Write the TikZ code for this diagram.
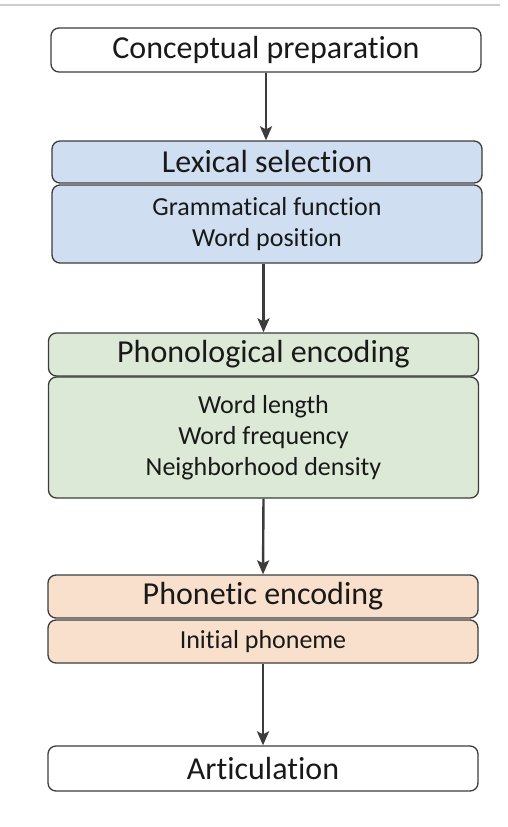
\documentclass[tikz,border=0pt]{standalone}
\usepackage{fontspec}
\setmainfont{Carlito}[RawFeature={-liga;-clig;-calt;-dlig}]
\usepackage{tikz}
\usetikzlibrary{shapes,arrows.meta}
\usetikzlibrary{calc}

\definecolor{lexblue}{RGB}{207,222,240}
\definecolor{phongreen}{RGB}{220,233,214}
\definecolor{phetorange}{RGB}{249,224,204}
\definecolor{edgegray}{RGB}{60,60,60}
\definecolor{rulegray}{RGB}{205,205,205}

\tikzset{
	stagebox/.style={draw=edgegray,line width=1.3pt,rounded corners=8pt,minimum width=430pt,inner sep=0pt,text=black!90,font=\fontsize{32}{36}\selectfont},
	factorbox/.style={stagebox,align=center,font=\fontsize{26}{31}\selectfont},
	flowarrow/.style={draw=edgegray,line width=2.4pt,-{Stealth[length=14pt,width=12pt,inset=3pt]}}
}

\begin{document}
\begin{tikzpicture}[x=1pt,y=-1pt]
	\useasboundingbox (0,0) rectangle (508,827);
	\draw[rulegray,line width=1.5pt] (0,5) -- (500,5);
	
	\node[stagebox,minimum height=44pt] (concept) at (266,50) {Conceptual preparation};
	
	\node[stagebox,fill=lexblue,minimum height=42pt] (lexhead) at (267,162) {Lexical selection};
	\node[factorbox,fill=lexblue,minimum height=78pt] (lexbody) at (267,224) {Grammatical function\\Word position};
	
	\node[stagebox,fill=phongreen,minimum height=43pt] (phonohead) at (263.5,354.5) {Phonological encoding};
	\node[factorbox,fill=phongreen,minimum height=121pt] (phonobody) at (263.5,437.5) {Word length\\Word frequency\\Neighborhood density};
	
	\node[stagebox,fill=phetorange,minimum height=43pt] (phonethead) at (263,596.5) {Phonetic encoding};
	\node[factorbox,fill=phetorange,minimum height=43pt] (phonetbody) at (263,641.5) {Initial phoneme};
	
	\node[stagebox,minimum height=45pt] (artic) at (263,768.5) {Articulation};
	
	\draw[flowarrow] (concept.south) -- (concept.south |- lexhead.north);
	\draw[flowarrow] (lexbody.south -| phonohead.north) -- (phonohead.north);
	\draw[flowarrow] (phonobody.south) -- (phonethead.north);
	\draw[flowarrow] (phonetbody.south) -- (artic.north);
\end{tikzpicture}
\end{document}
